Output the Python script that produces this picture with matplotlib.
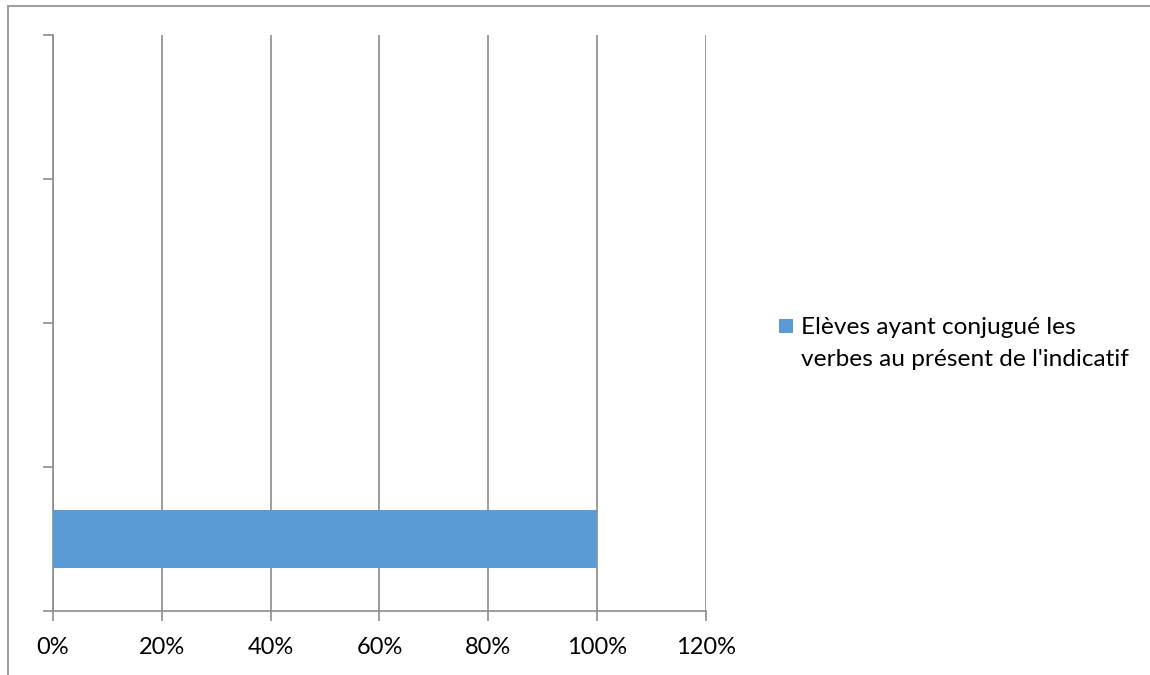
import matplotlib.pyplot as plt
from matplotlib.patches import Rectangle
from matplotlib.ticker import FuncFormatter

# one category slot filled out of four
slots = 4
bar_pos = [0]
bar_values = [1.0]
series_name = "Elèves ayant conjugué les\nverbes au présent de l'indicatif"
x_ticks = [0, 0.2, 0.4, 0.6, 0.8, 1.0, 1.2]
bar_col = '#5b9bd5'

plt.rcParams['font.family'] = ['Lato', 'DejaVu Sans']

W, H = 1150, 675
fig = plt.figure(figsize=(W / 100, H / 100), dpi=100)
ax = fig.add_axes([53 / W, 1 - 611 / H, (706 - 53) / W, (611 - 35) / H])

line_col = '#8c8c8c'
ax.barh(bar_pos, bar_values, height=0.4, color=bar_col, zorder=3)

ax.set_xlim(0, 1.2)
ax.set_ylim(-0.5, slots - 0.5)
ax.set_xticks(x_ticks)
ax.xaxis.set_major_formatter(FuncFormatter(lambda v, p: f"{v * 100:.0f}%"))
ax.set_yticks([i - 0.5 for i in range(slots + 1)])
ax.set_yticklabels([])
ax.grid(axis='x', color=line_col, linewidth=1.2, zorder=0)

for s in ['top', 'right']:
    ax.spines[s].set_visible(False)
for s in ['left', 'bottom']:
    ax.spines[s].set_color(line_col)
    ax.spines[s].set_linewidth(1.2)
ax.tick_params(axis='both', color=line_col, width=1.2, length=7, labelsize=17, pad=12)

# legend drawn by hand so the key sits level with the first line
fig.add_artist(Rectangle((779 / W, 1 - 333 / H), 14 / W, 14 / H, transform=fig.transFigure,
                         facecolor=bar_col, edgecolor='none'))
fig.text(801 / W, 1 - 317 / H, series_name, fontsize=17.6, va='top', ha='left',
         linespacing=1.62)

# chart area border
fig.add_artist(Rectangle((8 / W, -0.05), 1.1, 1 - 6 / H + 0.05, transform=fig.transFigure,
                         fill=False, edgecolor='#a0a0a0', linewidth=1.5))

fig.savefig('out.png', dpi=100)
